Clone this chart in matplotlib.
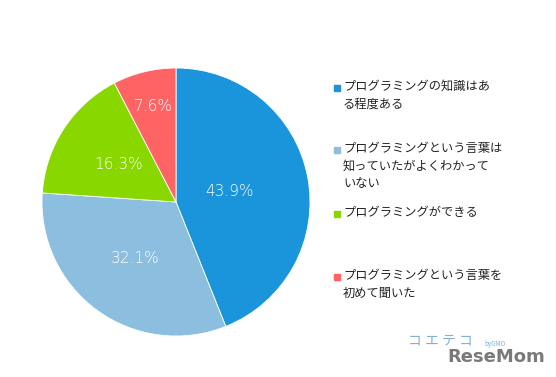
import matplotlib
matplotlib.use("Agg")
import matplotlib.pyplot as plt
import numpy as np

plt.rcParams['font.family'] = ['Noto Sans CJK JP', 'DejaVu Sans']

categories = ["プログラミングの知識はあ\nる程度ある",
              "プログラミングという言葉は\n知っていたがよくわかって\nいない",
              "プログラミングができる",
              "プログラミングという言葉を\n初めて聞いた"]
values = [43.9, 32.1, 16.3, 7.6]
colors = ["#1a95dc", "#8cbfdf", "#88d800", "#ff6464"]
label_dist = [0.41, 0.52, 0.51, 0.73]
legend_y = [88, 150, 214, 277]  # px from top, first line

W, H = 556, 377
fig = plt.figure(figsize=(W/100, H/100), dpi=100)
cx, cy, r = 176, 202, 134
ax = fig.add_axes([(cx-r)/W, (H-cy-r)/H, 2*r/W, 2*r/H])
wedges, _ = ax.pie(values, colors=colors, startangle=90, counterclock=False,
                   wedgeprops=dict(edgecolor='white', linewidth=0.6))
for w, v, d in zip(wedges, values, label_dist):
    ang = np.deg2rad((w.theta1 + w.theta2) / 2)
    ax.text(d*np.cos(ang), d*np.sin(ang), f"{v:.1f}%", color='white',
            fontsize=11, ha='center', va='center', family=['DejaVu Sans'],
            fontweight='light')
ax.set_xlim(-1, 1); ax.set_ylim(-1, 1)
ax.set_aspect('equal')
ax.axis('off')

for cat, c, y in zip(categories, colors, legend_y):
    fig.patches.append(plt.Rectangle((334/W, 1-(y+3)/H), 6/W, 6/H,
                                     transform=fig.transFigure, color=c))
    fig.text(343/W, 1-(y-8)/H, cat, fontsize=8.8, va='top', ha='left',
             color='#222222', linespacing=1.45)

fig.text(408/W, 1-345/H, "コ エ テ コ", fontsize=10, color='#7fb0dc',
         va='baseline', ha='left')
fig.text(484/W, 1-346/H, "byGMO", fontsize=4.5, color='#7fb0dc',
         va='baseline', ha='left')
fig.text(447/W, 1-362/H, "ReseMom", fontsize=13, color='#7a7a7a',
         va='baseline', ha='left', family=['DejaVu Sans'], fontweight='bold')

fig.savefig("out.png", dpi=100, facecolor='white')
